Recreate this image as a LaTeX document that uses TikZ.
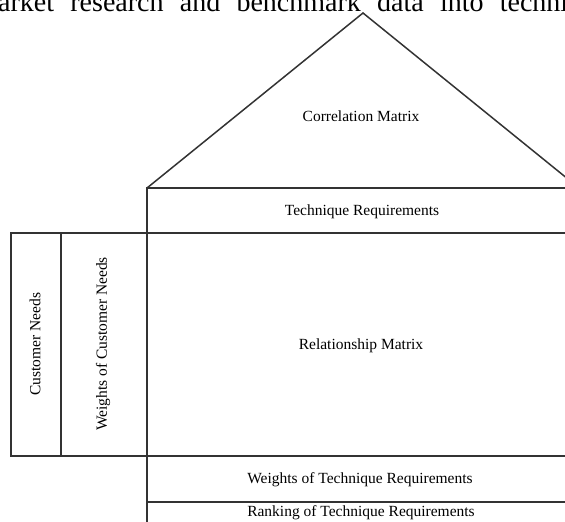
\documentclass[tikz,border=0pt]{standalone}
\usepackage{fontspec}
\setmainfont{Liberation Serif}

\tikzset{
    frame/.style={draw=black!80, line width=1.5pt},
    label/.style={font=\fontsize{15.5}{18}\selectfont, inner sep=0pt}
}

\begin{document}
\begin{tikzpicture}[x=1pt, y=-1pt]

    % page size and cut
    \useasboundingbox (0,0) rectangle (565,522);
    \clip (0,0) rectangle (565,522);

    % running text above the figure
    \node[anchor=base west, inner sep=0pt, font=\fontsize{28}{30}\selectfont] (runtext) at (-2,12)
        {\makebox[570pt][s]{arket research and benchmark data into techni}};

    % draw roof
    \draw[frame] (147,188) -- (363,13) -- (579,188);

    % draw boxes
    \draw[frame] (147,188) rectangle (600,233);
    \draw[frame] (147,233) rectangle (600,456);
    \draw[frame] (11,233) rectangle (61,456);
    \draw[frame] (61,233) rectangle (147,456);
    \draw[frame] (147,456) rectangle (600,502);
    \draw[frame] (147,502) rectangle (600,540);

    % add labels
    \node[label] (corr) at (361,116) {Correlation Matrix};
    \node[label] (techreq) at (362,212) {Technique Requirements};
    \node[label] (relmat) at (361,346) {Relationship Matrix};
    \node[label, rotate=90] (custneeds) at (35,344) {Customer Needs};
    \node[label, rotate=90] (custweights) at (103,344) {Weights of Customer Needs};
    \node[label] (techweights) at (360,480) {Weights of Technique Requirements};
    \node[label] (techrank) at (361,513) {Ranking of Technique Requirements};

\end{tikzpicture}
\end{document}
